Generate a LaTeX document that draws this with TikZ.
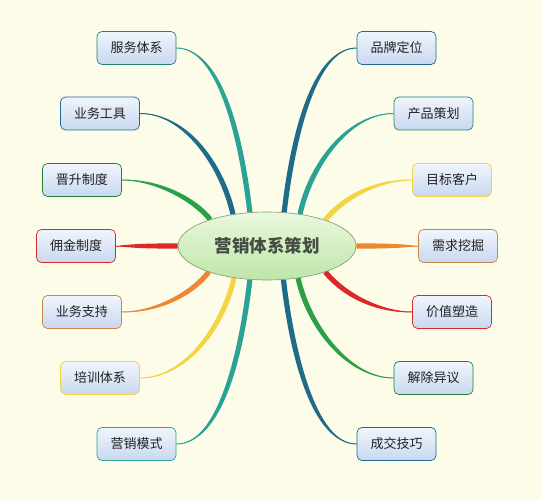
\documentclass[tikz,border=0pt]{standalone}
\usepackage{fontspec}
\setmainfont{Noto Sans CJK SC}
\usetikzlibrary{shapes.geometric,calc}
\pgfdeclarelayer{bg}\pgfdeclarelayer{mid}\pgfsetlayers{bg,mid,main}
\definecolor{bgc}{RGB}{252,252,233}
\definecolor{tealc}{RGB}{42,162,150}
\definecolor{bluec}{RGB}{30,108,138}
\definecolor{greenc}{RGB}{44,160,72}
\definecolor{redc}{RGB}{222,40,40}
\definecolor{orangec}{RGB}{236,136,52}
\definecolor{yellowc}{RGB}{244,212,64}
\definecolor{boxtop}{RGB}{240,245,252}
\definecolor{boxbot}{RGB}{200,216,240}
\definecolor{elltop}{RGB}{234,248,222}
\definecolor{ellbot}{RGB}{190,230,168}
\definecolor{ellc}{RGB}{128,150,118}
\definecolor{ctext}{RGB}{68,76,68}
\definecolor{txt}{RGB}{34,34,34}
\newcommand\mmbranch[5]{%
  \coordinate (bS) at (#1);
  \coordinate (bC) at ($(#1)+(#2)$);
  \coordinate (bE) at (#3);
  \coordinate (bD) at ($(#3)+(#4)$);
  \coordinate (bSp) at ($(bS)!2.6pt!90:(bC)$);
  \coordinate (bSm) at ($(bS)!2.6pt!-90:(bC)$);
  \fill[#5] (bSp) .. controls ($(bC)+(bSp)-(bS)$) and ($(bD)!0.5!(bD)+(bSp)-(bS)$) .. (bE)
     .. controls ($(bD)!0.5!(bD)+(bSm)-(bS)$) and ($(bC)+(bSm)-(bS)$) .. (bSm) -- cycle;
  \draw[#5, line width=1pt] (bS) .. controls (bC) and (bD) .. (bE);
}
\tikzset{
  mmbox/.style={draw=#1, rounded corners=5pt, minimum width=79pt, minimum height=33pt,
    top color=boxtop, bottom color=boxbot, font=\fontsize{13}{13}\selectfont,
    text=txt, line width=0.7pt, inner sep=0pt},
}
\begin{document}
\begin{tikzpicture}[x=1pt,y=-1pt]
\useasboundingbox (0,0) rectangle (544,500);
\begin{pgfonlayer}{bg}
\fill[bgc] (0,0) rectangle (544,500);
\fill[white] (541,0) rectangle (544,500);
\end{pgfonlayer}
\node[ellipse, draw=ellc, line width=0.6pt, top color=elltop, bottom color=ellbot,
  minimum width=178pt, minimum height=68pt, inner sep=0pt,
  font=\fontsize{17.5}{17.5}\selectfont\bfseries, text=ctext] (c) at (267,246) {营销体系策划};
% left
\node[mmbox=tealc!80!black] (l1) at (136.5,48) {服务体系};
\node[mmbox=bluec] (l2) at (100,113.5) {业务工具};
\node[mmbox=greenc!80!black] (l3) at (82,180) {晋升制度};
\node[mmbox=redc] (l4) at (76,246) {佣金制度};
\node[mmbox=orangec!70!gray] (l5) at (82,312) {业务支持};
\node[mmbox=yellowc] (l6) at (100,378) {培训体系};
\node[mmbox=tealc] (l7) at (136.5,444) {营销模式};
% right
\node[mmbox=bluec] (r1) at (396.5,48) {品牌定位};
\node[mmbox=tealc!80!black] (r2) at (433.5,113.5) {产品策划};
\node[mmbox=yellowc] (r3) at (452,180) {目标客户};
\node[mmbox=orangec!70!gray] (r4) at (458,246) {需求挖掘};
\node[mmbox=redc] (r5) at (452,312) {价值塑造};
\node[mmbox=greenc!80!black] (r6) at (433.5,378) {解除异议};
\node[mmbox=bluec] (r7) at (396.5,444) {成交技巧};
\begin{pgfonlayer}{mid}
\mmbranch{c.117}{-8,-70}{l1.east}{45,0}{tealc}
\mmbranch{c.137}{-11,-49}{l2.east}{46,0}{bluec}
\mmbranch{c.155}{-14,-18}{l3.east}{39,0}{greenc}
\mmbranch{c.180}{-20,0}{l4.east}{20,0}{redc}
\mmbranch{c.204}{-14,19}{l5.east}{39,0}{orangec}
\mmbranch{c.224}{-11,49}{l6.east}{46,0}{yellowc}
\mmbranch{c.243}{-8,70}{l7.east}{45,0}{tealc}
\mmbranch{c.63}{8,-70}{r1.west}{-44,0}{bluec}
\mmbranch{c.44}{11,-50}{r2.west}{-45,0}{tealc}
\mmbranch{c.24}{16,-20}{r3.west}{-39,0}{yellowc}
\mmbranch{c.0}{20,0}{r4.west}{-20,0}{orangec}
\mmbranch{c.336}{16,20}{r5.west}{-38,0}{redc}
\mmbranch{c.314}{11,49}{r6.west}{-45,0}{greenc}
\mmbranch{c.296}{8,69}{r7.west}{-44,0}{bluec}
\end{pgfonlayer}
\end{tikzpicture}
\end{document}
